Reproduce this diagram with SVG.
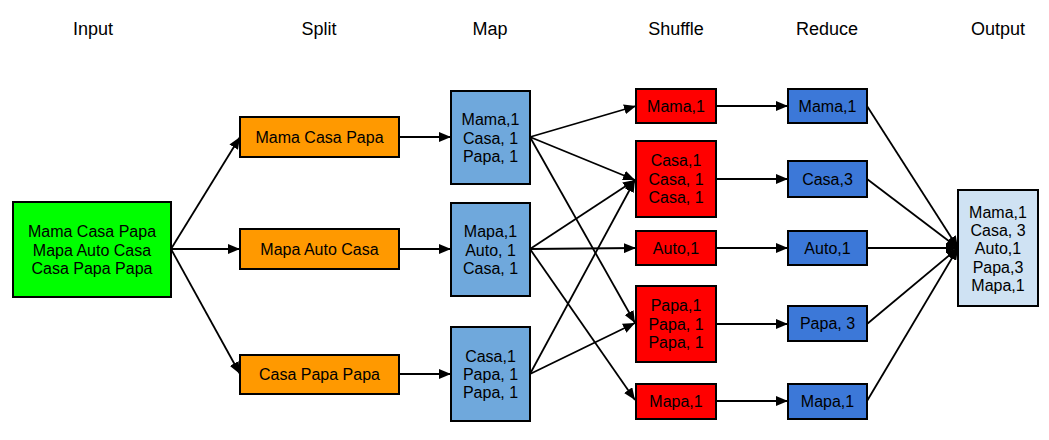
<svg xmlns="http://www.w3.org/2000/svg" width="1049" height="440" viewBox="0 0 1049 440">
<defs>
<marker id="ah" markerWidth="12" markerHeight="10" refX="12" refY="5" orient="auto" markerUnits="userSpaceOnUse">
<path d="M0,0 L12,5 L0,10 z" fill="#000"/>
</marker>
<style>
.t{font-family:"Liberation Sans",Arial,sans-serif;font-size:18px;fill:#000;text-anchor:middle}
.l{font-family:"Liberation Sans",Arial,sans-serif;font-size:16px;fill:#000;text-anchor:middle}
.b{stroke:#000;stroke-width:2}
.c line{stroke:#000;stroke-width:1.8;marker-end:url(#ah)}
.in{fill:#00ff00}.sp{fill:#ff9900}.mp{fill:#6fa8dc}.sh{fill:#ff0000}.rd{fill:#3c78d8}.out{fill:#cfe2f3}
</style>
</defs>
<rect width="1049" height="440" fill="#fff"/>
<g id="titles">
<text class="t" x="93" y="35">Input</text>
<text class="t" x="319" y="35">Split</text>
<text class="t" x="490" y="35">Map</text>
<text class="t" x="676" y="35">Shuffle</text>
<text class="t" x="827" y="35">Reduce</text>
<text class="t" x="998" y="35">Output</text>
</g>
<g id="connectors" class="c">
<line x1="171" y1="249" x2="240" y2="137"/>
<line x1="171" y1="249" x2="240" y2="249"/>
<line x1="171" y1="249" x2="240" y2="374"/>
<line x1="399" y1="137" x2="451" y2="137"/>
<line x1="399" y1="249" x2="451" y2="249"/>
<line x1="399" y1="374" x2="451" y2="374"/>
<line x1="530" y1="137" x2="636" y2="106"/>
<line x1="530" y1="137" x2="635" y2="180"/>
<line x1="530" y1="137" x2="635" y2="323"/>
<line x1="530" y1="249" x2="635" y2="180"/>
<line x1="530" y1="249" x2="636" y2="248"/>
<line x1="530" y1="249" x2="635" y2="400"/>
<line x1="530" y1="374" x2="635" y2="180"/>
<line x1="530" y1="374" x2="635" y2="323"/>
<line x1="716" y1="106" x2="788" y2="106"/>
<line x1="716" y1="179" x2="788" y2="179"/>
<line x1="716" y1="248" x2="788" y2="248"/>
<line x1="716" y1="324" x2="788" y2="324"/>
<line x1="716" y1="401" x2="788" y2="401"/>
<line x1="867" y1="106" x2="958" y2="248"/>
<line x1="867" y1="179" x2="958" y2="248"/>
<line x1="867" y1="248" x2="958" y2="248"/>
<line x1="867" y1="324" x2="958" y2="248"/>
<line x1="867" y1="401" x2="958" y2="248"/>
</g>
<g id="input">
<rect class="b in" x="13" y="202" width="158" height="95"/>
<text class="l" x="92" y="237">Mama Casa Papa</text>
<text class="l" x="92" y="256">Mapa Auto Casa</text>
<text class="l" x="92" y="274">Casa Papa Papa</text>
</g>
<g id="split1"><rect class="b sp" x="240" y="117" width="159" height="40"/><text class="l" x="319.5" y="143">Mama Casa Papa</text></g>
<g id="split2"><rect class="b sp" x="240" y="229" width="159" height="40"/><text class="l" x="319.5" y="255">Mapa Auto Casa</text></g>
<g id="split3"><rect class="b sp" x="240" y="355" width="159" height="39"/><text class="l" x="319.5" y="380">Casa Papa Papa</text></g>
<g id="map1"><rect class="b mp" x="451" y="91" width="79" height="93"/>
<text class="l" x="490.5" y="125">Mama,1</text><text class="l" x="490.5" y="144">Casa, 1</text><text class="l" x="490.5" y="162">Papa, 1</text></g>
<g id="map2"><rect class="b mp" x="451" y="203" width="79" height="93"/>
<text class="l" x="490.5" y="237">Mapa,1</text><text class="l" x="490.5" y="256">Auto, 1</text><text class="l" x="490.5" y="274">Casa, 1</text></g>
<g id="map3"><rect class="b mp" x="451" y="327" width="79" height="94"/>
<text class="l" x="490.5" y="362">Casa,1</text><text class="l" x="490.5" y="380">Papa, 1</text><text class="l" x="490.5" y="398">Papa, 1</text></g>
<g id="shuffle1"><rect class="b sh" x="636" y="89" width="80" height="34"/><text class="l" x="676" y="112">Mama,1</text></g>
<g id="shuffle2"><rect class="b sh" x="636" y="141" width="80" height="76"/>
<text class="l" x="676" y="166">Casa,1</text><text class="l" x="676" y="185">Casa, 1</text><text class="l" x="676" y="203">Casa, 1</text></g>
<g id="shuffle3"><rect class="b sh" x="636" y="231" width="80" height="34"/><text class="l" x="676" y="254">Auto,1</text></g>
<g id="shuffle4"><rect class="b sh" x="636" y="286" width="80" height="76"/>
<text class="l" x="676" y="311">Papa,1</text><text class="l" x="676" y="330">Papa, 1</text><text class="l" x="676" y="348">Papa, 1</text></g>
<g id="shuffle5"><rect class="b sh" x="636" y="384" width="80" height="35"/><text class="l" x="676" y="407">Mapa,1</text></g>
<g id="reduce1"><rect class="b rd" x="788" y="89" width="79" height="34"/><text class="l" x="827.5" y="112">Mama,1</text></g>
<g id="reduce2"><rect class="b rd" x="788" y="161" width="79" height="36"/><text class="l" x="827.5" y="185">Casa,3</text></g>
<g id="reduce3"><rect class="b rd" x="788" y="231" width="79" height="34"/><text class="l" x="827.5" y="254">Auto,1</text></g>
<g id="reduce4"><rect class="b rd" x="788" y="306" width="79" height="35"/><text class="l" x="827.5" y="329">Papa, 3</text></g>
<g id="reduce5"><rect class="b rd" x="788" y="384" width="79" height="35"/><text class="l" x="827.5" y="407">Mapa,1</text></g>
<g id="output"><rect class="b out" x="958" y="190" width="80" height="116"/>
<text class="l" x="998" y="218">Mama,1</text><text class="l" x="998" y="236">Casa, 3</text><text class="l" x="998" y="254">Auto,1</text><text class="l" x="998" y="273">Papa,3</text><text class="l" x="998" y="291">Mapa,1</text></g>
</svg>
